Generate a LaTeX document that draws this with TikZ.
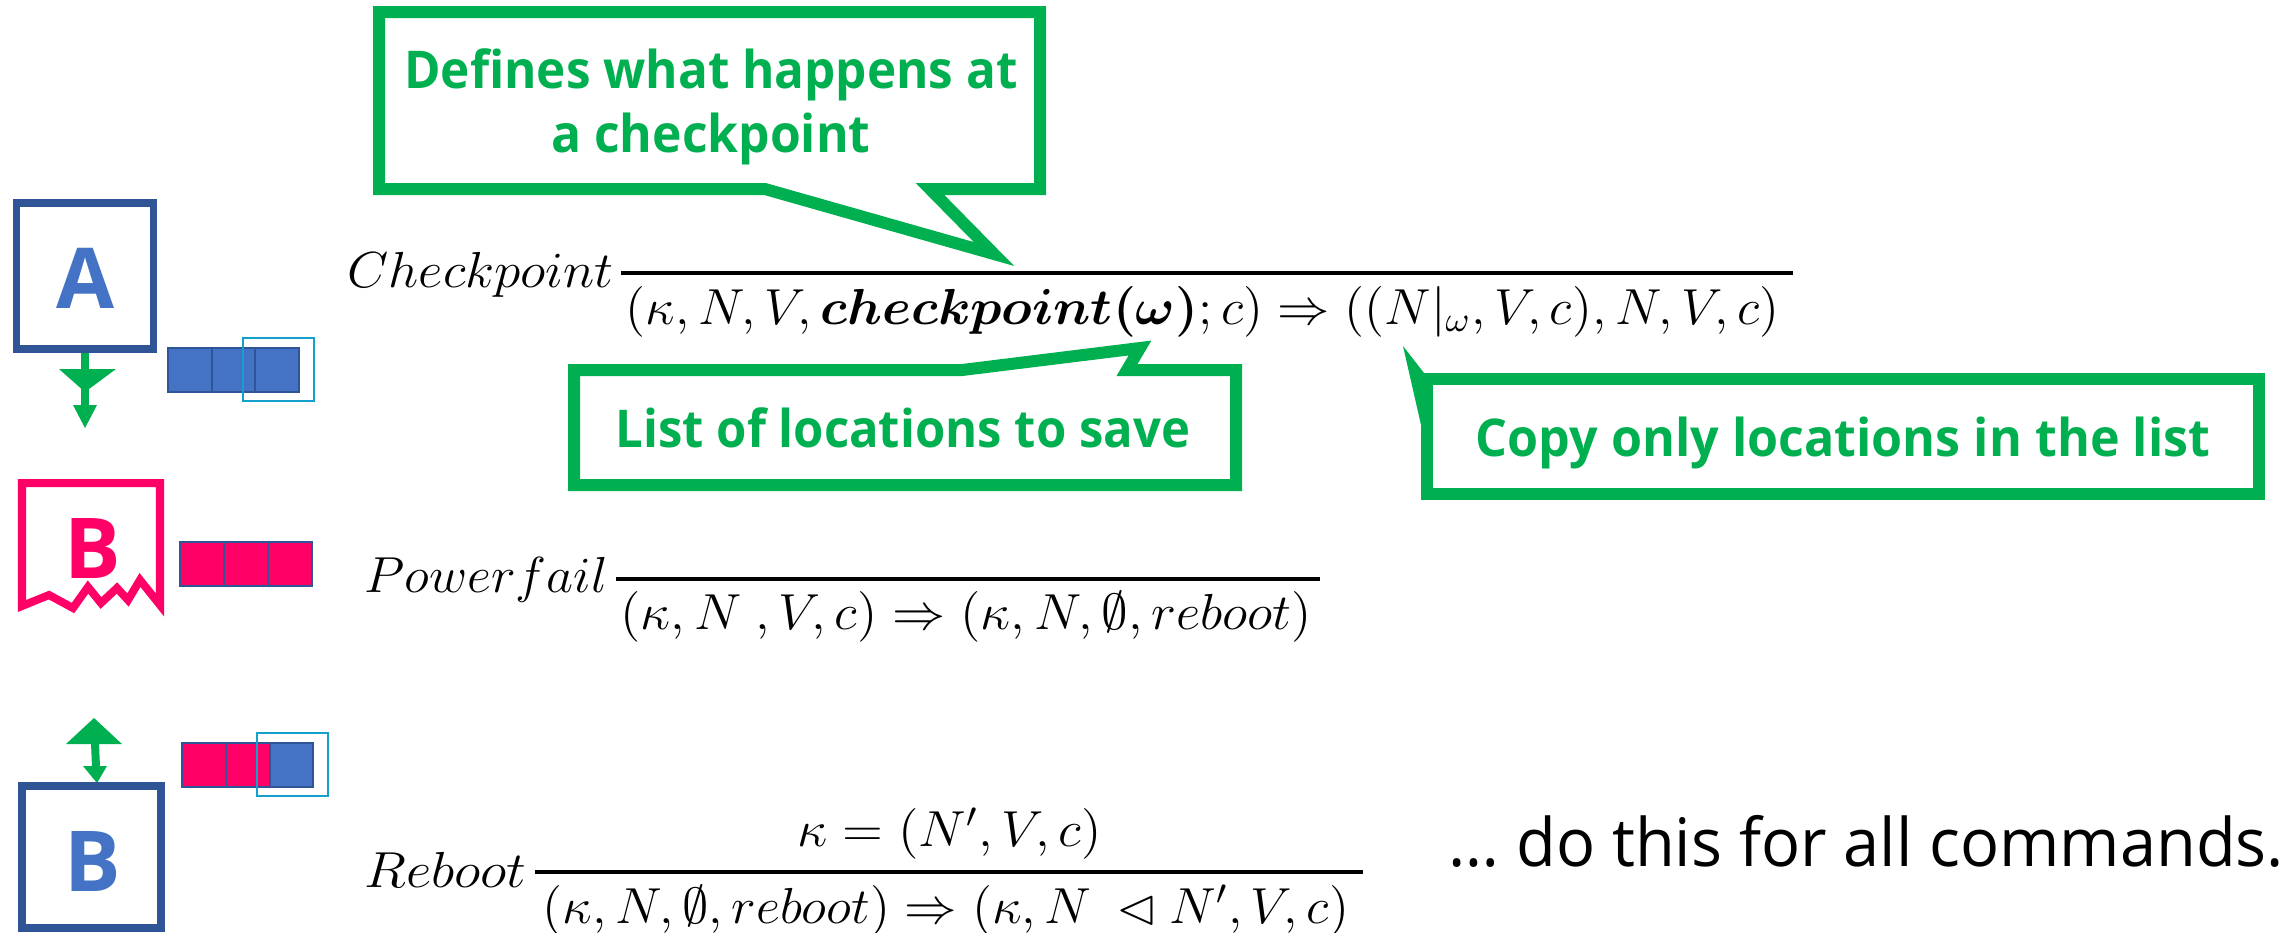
\documentclass[tikz,border=0pt]{standalone}
\usepackage{amsmath,amssymb}
\usepackage{fontspec}
\setmainfont{Open Sans}
\usepackage{graphicx}
\definecolor{cgreen}{RGB}{0,176,80}
\definecolor{dblue}{RGB}{47,85,151}
\definecolor{mblue}{RGB}{68,114,196}
\definecolor{cpink}{RGB}{255,0,102}
\definecolor{hcyan}{RGB}{20,160,205}
\newcommand{\fitw}[2]{\resizebox{#1}{\height}{#2}}
\begin{document}
\begin{tikzpicture}[x=0.01cm,y=-0.01cm,
  callout/.style={draw=cgreen, line width=0.12cm, line join=miter, fill=white},
  ctext/.style={text=cgreen, font=\bfseries\fontsize{14.8pt}{18pt}\selectfont, inner sep=0pt, anchor=base},
  mtxt/.style={font=\fontsize{14.4pt}{18pt}\selectfont, inner sep=0pt, anchor=base west},
  fracbar/.style={line width=0.045cm},
  cellb/.style={draw=dblue, line width=0.025cm, fill=mblue},
  cellp/.style={draw=dblue, line width=0.025cm, fill=cpink},
  hilite/.style={draw=hcyan, line width=0.028cm},
  letter/.style={font=\bfseries\fontsize{23.9pt}{28pt}\selectfont, inner sep=0pt, anchor=base},
  procbox/.style={draw=dblue, line width=0.075cm},
  garrow/.style={fill=cgreen},
]
\useasboundingbox (0,0) rectangle (2291,932);
\fill[white] (0,0) rectangle (2291,932);

% ---------- left icons ----------
% box A
\draw[procbox] (16.5,203) rectangle (153.5,349);
\node[letter, text=mblue] (la) at (85,308) {A};
% green down arrow
\fill[garrow] (81,353) rectangle (89,406);
\fill[garrow] (59,369) -- (116,369) -- (85,392) -- cycle;
\fill[garrow] (73,405) -- (97,405) -- (85,428) -- cycle;
% cells near A
\draw[cellb] (168,348) rectangle (212,392);
\draw[cellb] (212,348) rectangle (255,392);
\draw[cellb] (255,348) rectangle (299,392);
\draw[hilite] (243,338) rectangle (314,401);

% broken box B
\draw[draw=cpink, line width=0.08cm, line join=miter]
  (22,606) -- (22,483) -- (160,483) -- (160,605) -- (140,580) -- (128,600)
  -- (117,588) -- (101,603) -- (88,587) -- (73,608) -- (49,595) -- cycle;
\node[letter, text=cpink] (lb1) at (93,578) {B};
\draw[cellp] (180,542) rectangle (224,586);
\draw[cellp] (224,542) rectangle (268,586);
\draw[cellp] (268,542) rectangle (312,586);

% double arrow
\fill[garrow] (91,743) -- (99,743) -- (100,767) -- (92,767) -- cycle;
\fill[garrow] (66,744) -- (122,744) -- (94,718) -- cycle;
\fill[garrow] (83,766) -- (107,766) -- (97,783) -- cycle;
% cells near bottom B
\draw[cellp] (182,743) rectangle (226,787);
\draw[cellp] (226,743) rectangle (270,787);
\draw[cellb] (270,743) rectangle (313,787);
\draw[hilite] (257,733) rectangle (328,796);

% box B
\draw[procbox] (22,786) rectangle (161,928);
\node[letter, text=mblue] (lb2) at (93,891) {B};

% ---------- rules ----------
\node[mtxt] (cpl) at (347,287) {\fitw{2.66cm}{$Checkpoint$}};
\coordinate (cpa) at (621,273);
\coordinate (cpb) at (1793,273);
\draw[fracbar] (cpa) -- (cpb);
\node[mtxt] (cpd) at (625,324) {\fitw{11.53cm}{$(\kappa, N, V, \boldsymbol{checkpoint(\omega)}; c) \Rightarrow ((N|_{\omega}, V, c), N, V, c)$}};

\node[mtxt] (pfl) at (364,592) {\fitw{2.43cm}{$Powerfail$}};
\coordinate (pfa) at (616,579);
\coordinate (pfb) at (1320,579);
\draw[fracbar] (pfa) -- (pfb);
\node[mtxt] (pfd) at (620,629) {\fitw{6.91cm}{$(\kappa, N\ , V, c) \Rightarrow (\kappa, N, \emptyset, reboot)$}};

\node[mtxt] (rbl) at (364,887) {\fitw{1.62cm}{$Reboot$}};
\coordinate (rba) at (535,872);
\coordinate (rbb) at (1363,872);
\draw[fracbar] (rba) -- (rbb);
\node[mtxt] (rbn) at (797,846) {\fitw{3.04cm}{$\kappa = (N', V, c)$}};
\node[mtxt] (rbd) at (542,923) {\fitw{8.06cm}{$(\kappa, N, \emptyset, reboot) \Rightarrow (\kappa, N\ \lhd N', V, c)$}};

\node[anchor=base west, inner sep=0pt, font=\fontsize{19pt}{23pt}\selectfont] (dothis) at (1448,866) {\fitw{8.35cm}{… do this for all commands.}};

% ---------- callouts ----------
\draw[callout] (379,12) -- (1040,12) -- (1040,189) -- (930,189) -- (994,254)
  -- (765,189) -- (379,189) -- cycle;
\node[ctext] (c1a) at (711,88) {\fitw{6.13cm}{Defines what happens at}};
\node[ctext] (c1b) at (711,152) {\fitw{3.19cm}{a checkpoint}};

\draw[callout] (574,370) -- (962,370) -- (1140,348) -- (1127,370) -- (1236,370)
  -- (1236,485) -- (574,485) -- cycle;
\node[ctext] (c2) at (903,447) {\fitw{5.74cm}{List of locations to save}};

\fill[cgreen] (1403,346) -- (1424,373) -- (1430,373) -- (1430,425) -- (1421,425) -- cycle;
\draw[callout] (1427,379) rectangle (2259,494);
\node[ctext] (c3) at (1843,456) {\fitw{7.34cm}{Copy only locations in the list}};
\end{tikzpicture}
\end{document}
